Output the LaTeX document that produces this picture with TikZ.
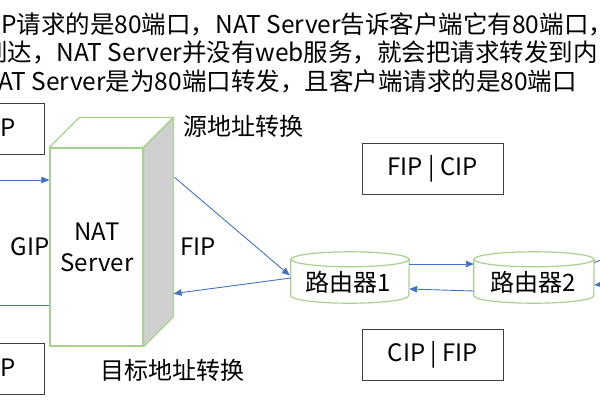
\documentclass[tikz,border=0pt]{standalone}
\usepackage{fontspec}
\setmainfont{Noto Sans CJK SC}
\usetikzlibrary{arrows.meta,calc}
\definecolor{ngreen}{HTML}{A9D18E}
\definecolor{nblue}{HTML}{4472C4}
\definecolor{boxgray}{HTML}{404040}
\definecolor{sidegray}{HTML}{D0D0D0}
\begin{document}
\begin{tikzpicture}[x=1pt,y=-1pt,
  txt/.style={inner sep=0pt, font=\fontsize{24}{31}\selectfont, text=black},
  hdr/.style={inner sep=0pt, anchor=west, font=\fontsize{24.5}{31}\selectfont, text=black},
  lbox/.style={draw=boxgray, line width=1pt, fill=white, inner sep=0pt,
    minimum width=141pt, minimum height=51pt, font=\fontsize{24}{31}\selectfont},
  face/.style={draw=ngreen, line width=1.2pt, line join=round},
  cyl/.style={draw=ngreen, line width=1.2pt},
  conn/.style={draw=nblue, line width=0.9pt},
  arr/.style={conn, -{Triangle[length=8pt,width=6.5pt]}},
  holder/.style={inner sep=0pt, minimum width=#1, minimum height=51pt}
]
\useasboundingbox (0,0) rectangle (600,400);
\clip (0,0) rectangle (600,400);
\fill[white] (0,0) rectangle (600,400);

% header text
\node[hdr] (h1) at (1,24) {P请求的是80端口，NAT Server告诉客户端它有80端口，};
\node[hdr] (h2) at (-17,52) {到达，NAT Server并没有web服务，就会把请求转发到内};
\node[hdr] (h3) at (-2,81) {AT Server是为80端口转发，且客户端请求的是80端口};

% left boxes
\node[lbox] (lb1) at (-26.5,128.5) {};
\node[txt, anchor=east] (ip1) at (16,128) {IP};
\node[lbox] (lb2) at (-26.5,369) {};
\node[txt, anchor=east] (ip2) at (16,368) {IP};

% NAT server box
\node[face, fill=white, minimum width=93pt, minimum height=198pt, inner sep=0pt] (nat) at (96.5,247) {};
\filldraw[face, fill=white] (nat.north west) -- ++(30,-30) -- ($(nat.north east)+(30,-30)$) -- (nat.north east) -- cycle;
\filldraw[face, fill=sidegray] (nat.north east) -- ++(30,-30) -- ($(nat.south east)+(30,-30)$) -- (nat.south east) -- cycle;
\node[txt, align=center] (natl) at (97,247.5) {NAT\\Server};

\node[txt] (gip) at (30,247) {GIP};
\node[txt] (fip) at (198,247) {FIP};
\node[txt, anchor=west] (src) at (183,126) {源地址转换};
\node[txt, anchor=west] (dst) at (100,370) {目标地址转换};

% routers
\node[holder=118pt] (r1) at (350,277.5) {};
\node[holder=120pt] (r2) at (534,277.5) {};
\foreach \r/\rx in {r1/59,r2/60}{
  \filldraw[cyl, fill=white] ($(\r.north west)+(0,7.5)$) -- ($(\r.south west)+(0,-7.5)$)
     arc[start angle=180, end angle=360, x radius=\rx pt, y radius=7.5pt]
     -- ($(\r.north east)+(0,7.5)$);
  \filldraw[cyl, fill=white] ($(\r.north)+(0,7.5)$) ellipse[x radius=\rx pt, y radius=7.5pt];
}
\node[txt] (r1t) at (348,282) {路由器1};
\node[txt] (r2t) at (533,282) {路由器2};

% right label boxes
\node[lbox] (b1) at (432.5,168.5) {FIP | CIP};
\node[lbox] (b2) at (433,354.5) {CIP | FIP};

% connectors
\coordinate (lin) at (-5,180);
\coordinate (lout) at (-5,305);
\draw[arr] (lin) -- (nat.west |- lin);
\draw[conn] (nat.west |- lout) -- (lout);
\draw[arr] ($(nat.north east)+(31,30)$) -- ($(r1.west)+(-1,-2)$);
\draw[arr] ($(r1.west)+(0,0.5)$) -- ($(nat.south east)+(30,-53)$);
\draw[arr] ($(r1.east)+(0,-13.5)$) -- ($(r2.west)+(0,-13.5)$);
\draw[arr] ($(r2.west)+(0,13.5)$) -- ($(r1.east)+(0,11.5)$);
\coordinate (rout) at (614,255);
\coordinate (rin) at (616,283);
\draw[conn] ($(r2.east)+(0,-15)$) -- (rout);
\draw[arr] (rin) -- ($(r2.east)+(0,7.5)$);
\end{tikzpicture}
\end{document}
